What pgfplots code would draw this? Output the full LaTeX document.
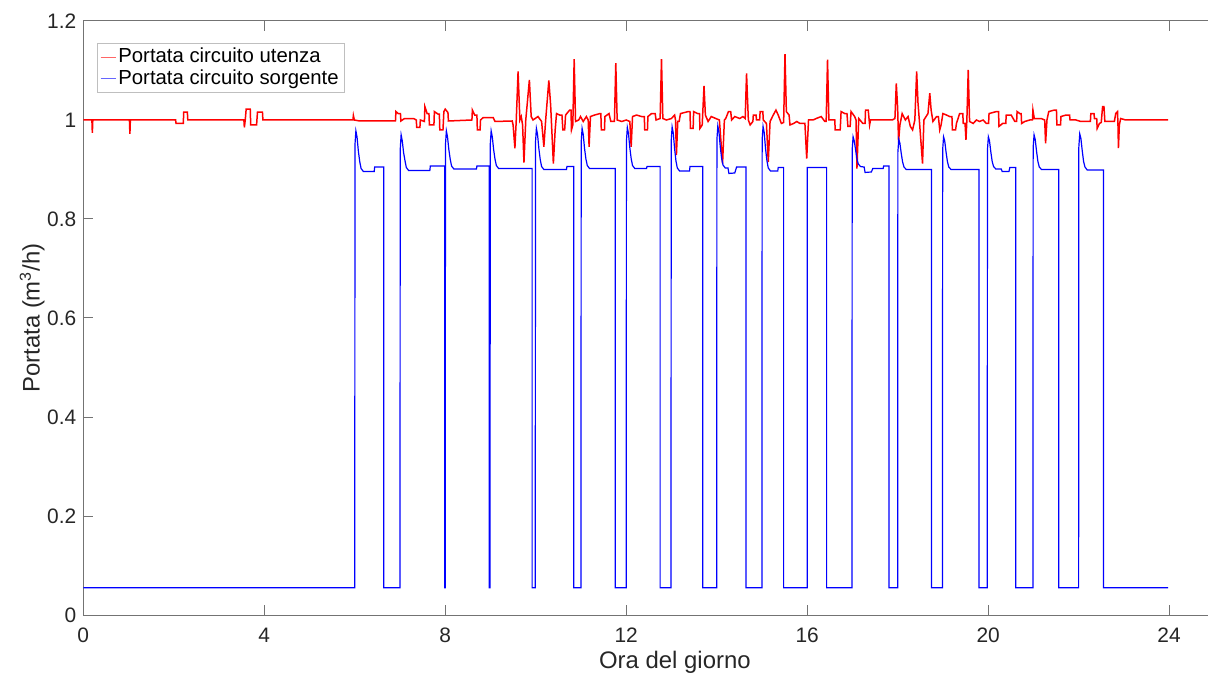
\documentclass[border=0pt]{standalone}
\usepackage{fontspec}
\setmainfont{Liberation Sans}
\usepackage{pgfplots}
\pgfplotsset{compat=1.18}

\begin{document}
\begin{tikzpicture}
\begin{axis}[
  scale only axis,
  width=562.35bp, height=297bp,
  xmin=0, xmax=24.86, ymin=0, ymax=1.2,
  axis x line*=box, axis y line*=left,
  axis line style={black!55, line width=0.5bp},
  xtick={0,4,8,12,16,20,24},
  ytick={0,0.2,0.4,0.6,0.8,1,1.2},
  tick align=inside,
  major tick length=5bp,
  tick style={black!55, line width=0.5bp},
  /pgf/number format/assume math mode=true,
  ticklabel style={font=\fontsize{10.5}{12}\selectfont, text=black!85},
  xticklabel style={yshift=-3bp},
  xlabel={Ora del giorno},
  xlabel style={font=\fontsize{12}{14}\selectfont, text=black!85, at={(axis description cs:0.526,-0.0791)}, anchor=center},
  ylabel={Portata (m\textsuperscript{3}/h)},
  ylabel style={font=\fontsize{12}{14}\selectfont, text=black!85, at={(axis description cs:-0.0455,0.5)}, anchor=center},
  legend style={at={(axis description cs:0.0119,0.9635)}, anchor=north west, draw=black!25, line width=0.5bp,
    font=\fontsize{10.2}{12}\selectfont, inner xsep=1.5bp, inner ysep=1bp, row sep=-1bp,
    nodes={inner xsep=1.2bp, inner ysep=1.5bp}},
  legend cell align=left,
  legend image code/.code={\draw[#1, line width=0.4bp, opacity=0.6] (0bp,0bp) -- (7.5bp,0bp);},
]
\addplot[red, line width=0.75bp] coordinates {
(0,1.0) (0.19,1.0) (0.2,0.974) (0.21,1.0) (1.02,1.0) (1.03,0.972) (1.04,1.0)
(2.04,1.0) (2.05,0.993) (2.21,0.993) (2.22,1.016) (2.30,1.016) (2.31,1.0)
(3.55,1.0) (3.56,0.985) (3.58,1.0) (3.60,1.022) (3.69,1.022) (3.70,0.99) (3.83,0.99) (3.85,1.016) (3.96,1.016) (3.97,1.0)
(5.96,1.0) (5.97,1.009) (5.99,1.0) (6.11,0.998) (6.90,0.998) (6.91,1.017) (6.96,1.013) (7.01,1.013) (7.02,0.998)
(7.10,1.003) (7.30,1.003) (7.36,1.0) (7.37,0.985) (7.44,0.985) (7.45,1.0) (7.54,0.997) (7.55,1.027) (7.60,1.013) (7.64,1.013)
(7.65,0.99) (7.75,0.99) (7.76,1.017) (7.84,1.012) (7.87,1.012) (7.88,0.98) (7.95,0.98) (7.97,1.017) (8.0,1.022) (8.06,1.015) (8.07,0.998)
(8.59,1.0) (8.60,1.02) (8.65,1.01) (8.70,1.01) (8.71,0.98) (8.77,0.98) (8.78,1.0) (8.84,1.005) (9.06,1.005) (9.10,0.997)
(9.48,0.998) (9.50,0.99) (9.54,0.943) (9.57,1.0) (9.61,1.098) (9.65,1.0) (9.68,1.007) (9.71,0.99) (9.74,0.914) (9.78,1.0)
(9.86,1.081) (9.90,1.007) (9.94,1.0) (10.05,1.007) (10.13,0.997) (10.18,0.946) (10.22,1.0) (10.29,1.08) (10.33,1.03)
(10.39,0.912) (10.43,0.98) (10.46,1.013) (10.53,1.01) (10.58,1.01) (10.60,0.98) (10.64,0.98) (10.66,1.01) (10.75,1.02)
(10.78,1.02) (10.79,0.98) (10.82,0.99) (10.85,1.123) (10.88,0.997) (10.95,1.0) (10.99,1.007) (11.05,0.997) (11.12,1.007)
(11.16,1.0) (11.18,0.946) (11.21,1.007) (11.30,1.01) (11.42,1.013) (11.44,1.013) (11.45,0.98) (11.52,0.98) (11.53,1.007)
(11.62,1.013) (11.66,0.997) (11.74,0.997) (11.77,1.115) (11.80,1.0) (11.90,0.997) (12.0,1.0) (12.08,0.997) (12.11,0.946)
(12.14,1.007) (12.23,1.01) (12.34,1.007) (12.40,1.007) (12.41,0.98) (12.47,0.98) (12.48,1.007) (12.56,1.013) (12.64,1.013)
(12.66,1.0) (12.75,1.003) (12.78,1.123) (12.81,1.003) (12.89,1.0) (13.0,1.003) (13.07,1.01) (13.09,1.0) (13.11,0.929)
(13.14,0.997) (13.17,0.997) (13.20,1.013) (13.37,1.017) (13.41,1.017) (13.42,0.983) (13.48,0.983) (13.49,1.017) (13.58,1.013)
(13.62,1.013) (13.63,0.983) (13.68,0.99) (13.72,1.069) (13.75,1.01) (13.81,0.997) (13.88,1.007) (13.98,1.003) (14.06,1.0)
(14.13,0.912) (14.17,1.0) (14.20,1.003) (14.26,1.017) (14.31,1.017) (14.33,1.0) (14.40,1.007) (14.51,1.003) (14.58,1.007)
(14.63,1.003) (14.66,1.094) (14.70,1.0) (14.74,0.99) (14.80,0.997) (14.81,1.01) (14.87,1.01) (14.88,1.0) (14.95,1.0)
(14.96,1.017) (15.02,1.017) (15.03,1.0) (15.10,0.993) (15.14,0.915) (15.18,0.997) (15.25,1.01) (15.31,1.02) (15.36,1.01)
(15.43,0.993) (15.48,0.995) (15.51,1.133) (15.54,1.017) (15.60,1.01) (15.62,0.99) (15.70,0.993) (15.77,0.997) (15.84,0.993)
(15.95,0.993) (15.99,0.922) (16.03,1.0) (16.13,1.0) (16.20,1.003) (16.31,1.007) (16.39,0.997) (16.42,0.997) (16.45,1.122)
(16.48,1.0) (16.61,1.0) (16.62,0.98) (16.73,0.98) (16.75,1.017) (16.83,1.013) (16.88,1.013) (16.90,0.987) (16.95,0.987)
(16.97,1.017) (17.05,1.007) (17.08,1.0) (17.10,0.902) (17.14,1.003) (17.23,0.993) (17.28,0.993) (17.29,1.02) (17.35,1.02)
(17.38,0.99) (17.40,1.0) (17.51,1.0) (17.88,1.0) (17.94,1.003) (17.97,1.074) (18.0,1.024) (18.02,0.956) (18.05,0.99)
(18.10,1.013) (18.17,1.0) (18.23,1.007) (18.28,0.987) (18.33,0.98) (18.38,1.0) (18.42,1.098) (18.45,1.034) (18.49,0.987)
(18.55,0.912) (18.58,1.0) (18.67,1.013) (18.71,1.054) (18.74,1.02) (18.78,0.997) (18.86,1.007) (18.90,1.007) (18.93,0.98)
(18.96,0.99) (19.0,1.013) (19.08,1.01) (19.15,1.007) (19.20,1.007) (19.21,0.98) (19.28,0.98) (19.30,0.993) (19.37,1.013)
(19.44,1.013) (19.45,0.993) (19.49,0.993) (19.51,0.96) (19.53,1.0) (19.56,1.101) (19.59,0.997) (19.67,0.993) (19.74,1.0)
(19.81,0.997) (19.89,1.0) (19.96,0.993) (20.01,0.993) (20.02,1.013) (20.18,1.017) (20.23,1.017) (20.24,0.987) (20.32,0.993)
(20.39,0.993) (20.40,1.01) (20.51,1.01) (20.59,0.997) (20.63,0.997) (20.64,1.017) (20.70,1.013) (20.73,1.013) (20.74,0.993)
(20.81,0.997) (20.92,1.0) (20.98,1.0) (20.99,1.02) (21.02,1.003) (21.17,1.003) (21.25,1.0) (21.27,0.953) (21.30,1.0)
(21.34,1.017) (21.46,1.02) (21.51,1.02) (21.52,0.99) (21.60,0.99) (21.61,1.007) (21.72,1.01) (21.80,1.01) (21.81,1.0)
(21.94,1.0) (22.05,0.997) (22.16,0.997) (22.26,0.997) (22.27,1.013) (22.34,1.013) (22.35,1.003) (22.40,1.003) (22.41,0.983)
(22.46,0.993) (22.50,0.995) (22.53,1.027) (22.56,1.027) (22.58,0.997) (22.79,0.997) (22.82,1.013) (22.86,1.017) (22.87,0.99)
(22.88,0.943) (22.90,0.99) (22.93,1.003) (23.04,1.0) (23.98,1.0)
};
\addlegendentry{Portata circuito utenza}
\addplot[blue, line width=0.6bp] coordinates {
(0,0.055) (6.0,0.055)
(6.0,0.055) (6.005,0.95) (6.025,0.978) (6.05,0.966) (6.08,0.937) (6.11,0.916) (6.14,0.902) (6.19,0.896) (6.43,0.896) (6.44,0.905) (6.64,0.905) (6.64,0.055)
(7.0,0.055) (7.005,0.94) (7.025,0.970) (7.05,0.958) (7.08,0.934) (7.11,0.918) (7.14,0.904) (7.19,0.898) (7.66,0.898) (7.67,0.907) (7.99,0.907) (7.99,0.055) (8.0,0.055)
(8.005,0.95) (8.025,0.978) (8.05,0.966) (8.08,0.94) (8.11,0.921) (8.14,0.907) (8.19,0.901) (8.69,0.901) (8.70,0.907) (8.975,0.907) (8.975,0.055) (8.99,0.055)
(8.995,0.95) (9.015,0.978) (9.04,0.966) (9.07,0.94) (9.10,0.921) (9.13,0.908) (9.18,0.902) (9.92,0.902) (9.92,0.055) (9.99,0.055)
(9.995,0.955) (10.015,0.983) (10.04,0.971) (10.07,0.942) (10.10,0.92) (10.13,0.906) (10.18,0.900) (10.68,0.900) (10.69,0.906) (10.84,0.906) (10.84,0.055) (11.0,0.055)
(11.005,0.955) (11.025,0.983) (11.05,0.971) (11.08,0.942) (11.11,0.921) (11.14,0.908) (11.19,0.902) (11.76,0.902) (11.76,0.055) (12.0,0.055)
(12.005,0.957) (12.025,0.985) (12.05,0.973) (12.08,0.944) (12.11,0.922) (12.14,0.908) (12.19,0.902) (12.45,0.902) (12.46,0.906) (12.75,0.906) (12.75,0.055) (12.99,0.055)
(12.995,0.958) (13.015,0.986) (13.04,0.974) (13.07,0.942) (13.10,0.917) (13.13,0.903) (13.18,0.897) (13.40,0.897) (13.41,0.906) (13.69,0.906) (13.69,0.055) (14.0,0.055)
(14.005,0.96) (14.025,0.988) (14.05,0.976) (14.08,0.945) (14.11,0.922) (14.14,0.909) (14.19,0.903) (14.25,0.903) (14.27,0.892) (14.40,0.893) (14.44,0.905) (14.65,0.905) (14.65,0.055) (15.0,0.055)
(15.005,0.96) (15.025,0.987) (15.05,0.975) (15.08,0.942) (15.11,0.918) (15.14,0.903) (15.19,0.897) (15.35,0.897) (15.36,0.904) (15.48,0.904) (15.48,0.055) (16.0,0.055)
(16.0,0.904) (16.43,0.904) (16.43,0.055) (16.99,0.055)
(16.995,0.94) (17.015,0.966) (17.04,0.958) (17.07,0.94) (17.10,0.922) (17.13,0.911) (17.18,0.906) (17.26,0.905) (17.28,0.894) (17.42,0.895) (17.45,0.902) (17.68,0.902) (17.69,0.907) (17.81,0.907) (17.81,0.055) (18.0,0.055)
(18.005,0.935) (18.025,0.961) (18.05,0.953) (18.08,0.932) (18.11,0.915) (18.14,0.905) (18.19,0.900) (18.75,0.900) (18.75,0.055) (18.99,0.055)
(18.995,0.94) (19.015,0.966) (19.04,0.958) (19.07,0.935) (19.10,0.916) (19.13,0.905) (19.18,0.900) (19.80,0.900) (19.80,0.055) (19.98,0.055)
(19.985,0.94) (20.005,0.966) (20.03,0.958) (20.06,0.935) (20.09,0.916) (20.12,0.906) (20.17,0.901) (20.29,0.901) (20.31,0.896) (20.46,0.896) (20.48,0.904) (20.61,0.904) (20.61,0.055) (20.99,0.055)
(20.995,0.944) (21.015,0.970) (21.04,0.961) (21.07,0.937) (21.10,0.916) (21.13,0.905) (21.18,0.900) (21.56,0.900) (21.56,0.055) (22.0,0.055)
(22.005,0.946) (22.025,0.972) (22.05,0.963) (22.08,0.938) (22.11,0.916) (22.14,0.905) (22.19,0.899) (22.55,0.899) (22.55,0.055) (23.98,0.055)
};
\addlegendentry{Portata circuito sorgente}
\end{axis}
\pgfresetboundingbox
\path (-41.65bp,-34.5bp) rectangle (562.35bp,307.5bp);
\end{tikzpicture}
\end{document}
